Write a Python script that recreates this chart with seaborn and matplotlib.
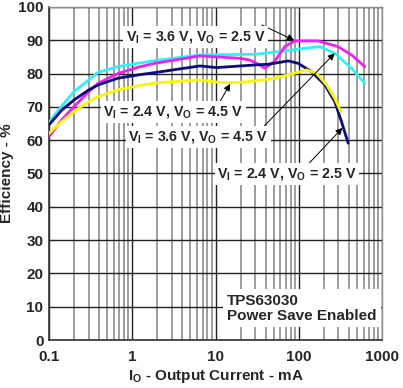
import numpy as np
import pandas as pd
import matplotlib.pyplot as plt
import seaborn as sns

# efficiency curves (mA, %)
cyan_ma = [0.1, 0.129, 0.2, 0.3, 0.39, 0.67, 1.17, 1.87, 6.5, 30, 68, 118, 178, 270, 430, 620]
cyan_eff = [65.3, 69.0, 74.6, 78.1, 80.4, 82.1, 83.1, 83.9, 85.6, 85.8, 86.8, 87.6, 88.1, 86.1, 81.6, 77.1]

magenta_ma = [0.1, 0.142, 0.2, 0.3, 0.39, 0.67, 1.17, 1.87, 6.5, 19.6, 25.6, 34, 39, 51, 68, 89, 171, 296, 430, 620]
magenta_eff = [61.1, 66.1, 70.1, 74.6, 77.1, 80.0, 81.9, 83.1, 85.3, 84.6, 84.1, 82.6, 81.6, 83.6, 88.1, 89.8, 89.8, 88.1, 85.6, 82.1]

navy_ma = [0.1, 0.142, 0.2, 0.3, 0.39, 0.67, 1.17, 1.87, 6.5, 10.3, 30, 43, 75, 98, 142, 206, 270, 326, 392]
navy_eff = [64.6, 69.0, 72.1, 75.1, 76.6, 78.6, 79.6, 80.3, 82.3, 81.8, 82.6, 82.8, 83.8, 83.1, 80.6, 76.6, 71.6, 65.6, 59.1]

yellow_ma = [0.1, 0.142, 0.2, 0.3, 0.39, 0.67, 1.17, 1.87, 6.5, 11.3, 17.9, 30, 51, 89, 124, 163, 216, 270, 320]
yellow_eff = [62.1, 65.6, 68.6, 71.6, 73.1, 75.1, 76.3, 77.2, 78.1, 77.3, 77.3, 77.8, 78.6, 80.1, 81.1, 80.1, 76.6, 72.6, 68.6]

series = [
    (cyan_ma, cyan_eff, '#33f0f8'),
    (magenta_ma, magenta_eff, '#f020f0'),
    (navy_ma, navy_eff, '#0c0c80'),
    (yellow_ma, yellow_eff, '#f8f800'),
]

sns.set_style('white')
plt.rcParams['font.family'] = ['Liberation Sans', 'DejaVu Sans']
plt.rcParams['mathtext.default'] = 'regular'

fig = plt.figure(figsize=(4.03, 3.88), dpi=100)
ax = fig.add_axes([0.1216, 0.1237, 0.8263, 0.8583])

for xs, ys, col in series:
    df = pd.DataFrame({'I': xs, 'eff': ys})
    sns.lineplot(data=df, x='I', y='eff', color=col, lw=2.0, ax=ax, zorder=3)

ax.set_xscale('log')
ax.set_xlim(0.1, 1000)
ax.set_ylim(0, 100)
ax.set_xticks([0.1, 1, 10, 100, 1000])
ax.set_xticklabels(['0.1', '1', '10', '100', '1000'])
ax.set_yticks(range(0, 101, 10))
ax.xaxis.set_minor_locator(plt.LogLocator(base=10, subs=np.arange(2, 10)))
ax.grid(which='major', axis='x', color='#222222', lw=1.0)
ax.grid(which='minor', axis='x', color='#8c8c8c', lw=1.2)
ax.grid(which='major', axis='y', color='#222222', lw=1.0)
ax.tick_params(which='both', length=0, labelsize=11)
ax.tick_params(axis='x', pad=7)
ax.tick_params(axis='y', pad=4)
for lab in ax.get_xticklabels() + ax.get_yticklabels():
    lab.set_fontweight('bold')
for side in ['left', 'bottom']:
    ax.spines[side].set_color('#333333')
    ax.spines[side].set_linewidth(1.2)
for side in ['top', 'right']:
    ax.spines[side].set_color('#8c8c8c')
    ax.spines[side].set_linewidth(1.0)

ax.set_xlabel('I$_O$ - Output Current - mA', fontsize=11, fontweight='bold', labelpad=3)
ax.set_ylabel('Efficiency - %', fontsize=11, fontweight='bold', labelpad=3)

box = dict(facecolor='white', edgecolor='none', pad=2)
arrow = dict(arrowstyle='-|>', color='black', lw=0.7, mutation_scale=10, shrinkA=0, shrinkB=0)

# text label: (text, x, y)
labels = [
    ('V$_I$ = 3.6 V, V$_O$ = 2.5 V', 0.84, 91.0),
    ('V$_I$ = 2.4 V, V$_O$ = 4.5 V', 0.45, 68.5),
    ('V$_I$ = 3.6 V, V$_O$ = 4.5 V', 0.9, 61.0),
    ('V$_I$ = 2.4 V, V$_O$ = 2.5 V', 10.5, 49.8),
]
# arrows: tail -> head
arrows = [
    ((36, 94.6), (88, 90.0)),
    ((10.4, 70.0), (15.0, 76.9)),
    ((32, 62.2), (270, 86.1)),
    ((118, 51.7), (335, 63.7)),
]
for (x0, y0), (x1, y1) in arrows:
    ax.annotate('', xy=(x1, y1), xytext=(x0, y0), arrowprops=arrow, zorder=4)
for txt, tx, ty in labels:
    ax.text(tx, ty, txt, fontsize=10.3, fontweight='bold', ha='left', va='center',
            bbox=box, zorder=5)

ax.text(13.7, 5.2, 'TPS63030\nPower Save Enabled', fontsize=11, fontweight='bold',
        ha='left', va='bottom', linespacing=1.1,
        bbox=dict(facecolor='white', edgecolor='none', pad=3), zorder=5)

fig.savefig('out.png', dpi=100)
